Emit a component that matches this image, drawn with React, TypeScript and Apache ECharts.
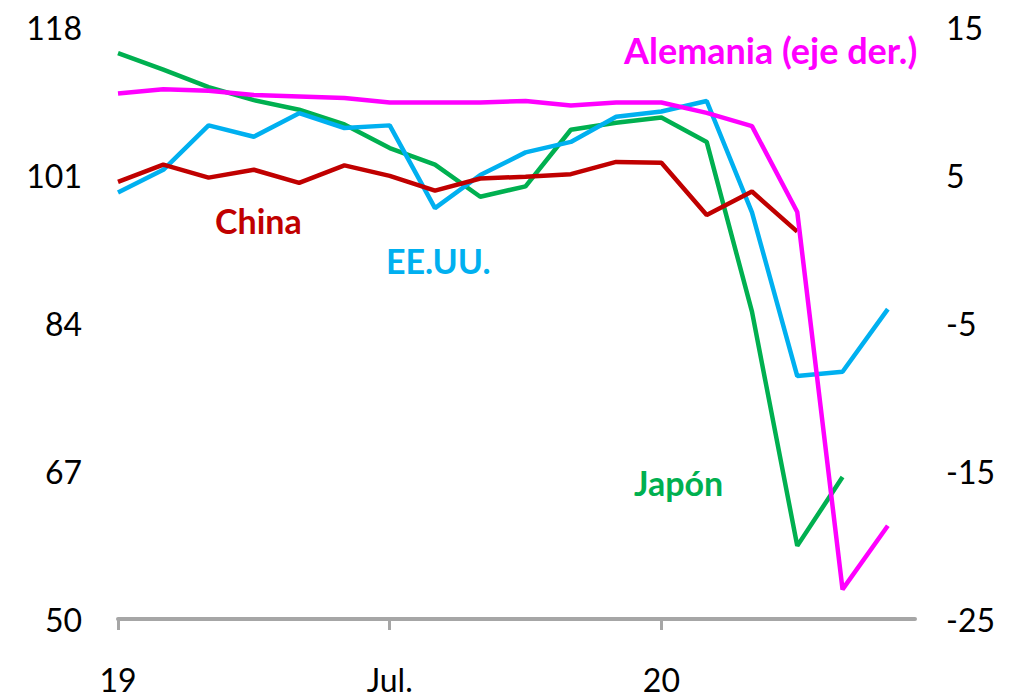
import React, { useEffect, useRef } from "react";
import * as echarts from "echarts";

// Monthly index, Jan 2019 – Jun 2020 (index 0 = Jan 2019)
const monthIndex = [0, 1, 2, 3, 4, 5, 6, 7, 8, 9, 10, 11, 12, 13, 14, 15, 16, 17];
const xTickLabels: Record<number, string> = { 0: "19", 6: "Jul.", 12: "20" };

// Left axis series
const japon = [115.0, 113.1, 111.1, 109.6, 108.5, 106.8, 104.1, 102.2, 98.5, 99.7, 106.2, 107.0, 107.6, 104.8, 85.3, 58.4, 66.3];
const eeuu = [99.0, 101.6, 106.7, 105.4, 108.1, 106.4, 106.7, 97.2, 101.0, 103.6, 104.8, 107.7, 108.3, 109.5, 96.7, 77.9, 78.4, 85.6];
const china = [100.2, 102.2, 100.7, 101.6, 100.1, 102.1, 100.9, 99.2, 100.6, 100.8, 101.1, 102.5, 102.4, 96.4, 99.1, 94.5];
// Right axis series
const alemania = [10.5, 10.8, 10.7, 10.4, 10.3, 10.2, 9.9, 9.9, 9.9, 10.0, 9.7, 9.9, 9.9, 9.2, 8.3, 2.5, -23.0, -18.7];

const pair = (vals: number[]) => vals.map((v, i) => [monthIndex[i], v]);

const FONT = "Lato";

export default function App() {
  const ref = useRef<HTMLDivElement>(null);
  useEffect(() => {
    if (!ref.current) return;
    const chart = echarts.init(ref.current, null, { renderer: "svg" });
    const line = (name: string, data: number[], color: string, yAxisIndex = 0) => ({
      name,
      type: "line",
      yAxisIndex,
      data: pair(data),
      symbol: "none",
      lineStyle: { color, width: 4.5 },
      z: 3,
    });
    const label = (text: string, x: number, y: number, color: string, size = 34) => ({
      type: "text",
      x,
      y,
      style: { text, fill: color, font: `bold ${size}px ${FONT}`, textVerticalAlign: "middle" },
    });
    chart.setOption({
      animation: false,
      backgroundColor: "#fff",
      textStyle: { fontFamily: FONT },
      grid: { left: 118, right: 99, top: 27, bottom: 79 },
      xAxis: {
        type: "value",
        min: 0,
        max: 17.6,
        interval: 6,
        splitLine: { show: false },
        axisLine: { show: true, onZero: false, lineStyle: { color: "#A6A6A6", width: 4 } },
        axisTick: { show: true, length: 11, lineStyle: { color: "#A6A6A6", width: 3 } },
        axisLabel: {
          showMaxLabel: false,
          margin: 44,
          color: "#000",
          fontSize: 32,
          fontFamily: FONT,
          formatter: (v: number) => xTickLabels[v] ?? "",
        },
      },
      yAxis: [
        {
          type: "value",
          min: 50,
          max: 118,
          interval: 17,
          position: "left",
          splitLine: { show: false },
          axisLine: { show: false },
          axisTick: { show: false },
          axisLabel: { margin: 36, color: "#000", fontSize: 32, fontFamily: FONT },
        },
        {
          type: "value",
          min: -25,
          max: 15,
          interval: 10,
          position: "right",
          splitLine: { show: false },
          axisLine: { show: false },
          axisTick: { show: false },
          axisLabel: { margin: 31, color: "#000", fontSize: 32, fontFamily: FONT },
        },
      ],
      series: [
        line("Japón", japon, "#00B050"),
        line("EE.UU.", eeuu, "#00B0F0"),
        line("China", china, "#C00000"),
        line("Alemania", alemania, "#FF00FF", 1),
      ],
      graphic: [
        label("China", 215, 220, "#C00000"),
        label("EE.UU.", 386, 260, "#00B0F0"),
        label("Japón", 634, 482, "#00B050"),
        label("Alemania (eje der.)", 624, 50, "#FF00FF", 36),
      ],
    });
    return () => chart.dispose();
  }, []);
  return (
    <div
      ref={ref}
      style={{ position: "absolute", left: 0, top: 0, width: 1014, height: 698 }}
    />
  );
}
